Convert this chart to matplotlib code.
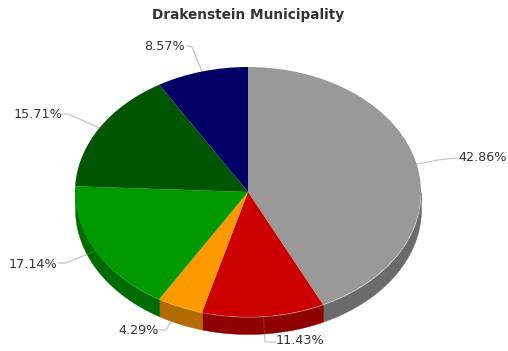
"""Pie chart with a shallow extruded rim, drawn in a flat ellipse."""

import matplotlib

matplotlib.use("Agg")
import matplotlib.pyplot as plt
import numpy as np

WIDTH, HEIGHT = 508, 351
CX, CY = 248, 192
RX, RY = 173, 125
DEPTH = 17

values = [42.86, 11.43, 4.29, 17.14, 15.71, 8.57]
top_colors = ["#999999", "#cc0000", "#ff9900", "#009900", "#005500", "#000066"]
rim_colors = ["#6b6b6b", "#8f0000", "#b36b00", "#006b00", "#003b00", "#000047"]

# elbow and end of each leader line, and where its label sits (pixels)
leader_bends = [(438, 160), (265, 342), (166, 330), (65, 263), (68, 114), (192, 47)]
leader_ends = [(456, 158), (275, 342), (160, 330), (59, 263), (62, 114), (187, 46)]
label_anchor = [(458, 158), (276, 341), (159, 330), (57, 264), (62, 115), (185, 47)]
label_align = ["left", "left", "right", "right", "right", "right"]


def px(x, y):
    """Convert pixel position (y down) to the unit-circle axes coordinates."""
    return (x - CX) / RX, (CY - y) / RY


fig = plt.figure(figsize=(WIDTH / 100, HEIGHT / 100), dpi=100)
ax = fig.add_axes([0, 0, 1, 1])

edges = 360 * np.cumsum([0] + values) / sum(values)
depth = DEPTH / RY

# rim: only the part of each slice facing the viewer gets a side wall
for start, end, color in zip(edges[:-1], edges[1:], rim_colors):
    lo, hi = max(start, 90), min(end, 270)
    if lo >= hi:
        continue
    t = np.radians(np.linspace(lo, hi, 80))
    x = np.sin(t)
    y = np.cos(t)
    ax.fill_between(x, y, y - depth, color=color, lw=0.3, zorder=1)

# pie() measures counterclockwise, so go clockwise from 12 o'clock
ax.pie(
    values,
    colors=top_colors,
    startangle=90,
    counterclock=False,
    radius=1,
    wedgeprops={"linewidth": 0, "zorder": 2},
)
ax.set_aspect("auto")
ax.set_xlim((0 - CX) / RX, (WIDTH - CX) / RX)
ax.set_ylim((CY - HEIGHT) / RY, CY / RY)
ax.axis("off")

for i, value in enumerate(values):
    mid = np.radians((edges[i] + edges[i + 1]) / 2)
    bend = px(*leader_bends[i])
    end = px(*leader_ends[i])
    # translucent so the line reads light on white and dark across the rim
    ax.plot(
        [np.sin(mid), bend[0], end[0]],
        [np.cos(mid), bend[1], end[1]],
        color="#707070",
        lw=0.9,
        alpha=0.4,
        zorder=3,
        solid_joinstyle="miter",
    )
    lx, ly = px(*label_anchor[i])
    ax.text(
        lx,
        ly,
        f"{value:.2f}%",
        ha=label_align[i],
        va="center",
        fontsize=9.2,
        color="#333333",
        family="DejaVu Sans",
        zorder=4,
    )

tx, ty = px(248, 15)
ax.text(
    tx,
    ty,
    "Drakenstein Municipality",
    ha="center",
    va="center",
    fontsize=9.8,
    fontweight="bold",
    color="#333333",
    family="DejaVu Sans",
)

fig.savefig("out.png", dpi=100)
plt.close(fig)
